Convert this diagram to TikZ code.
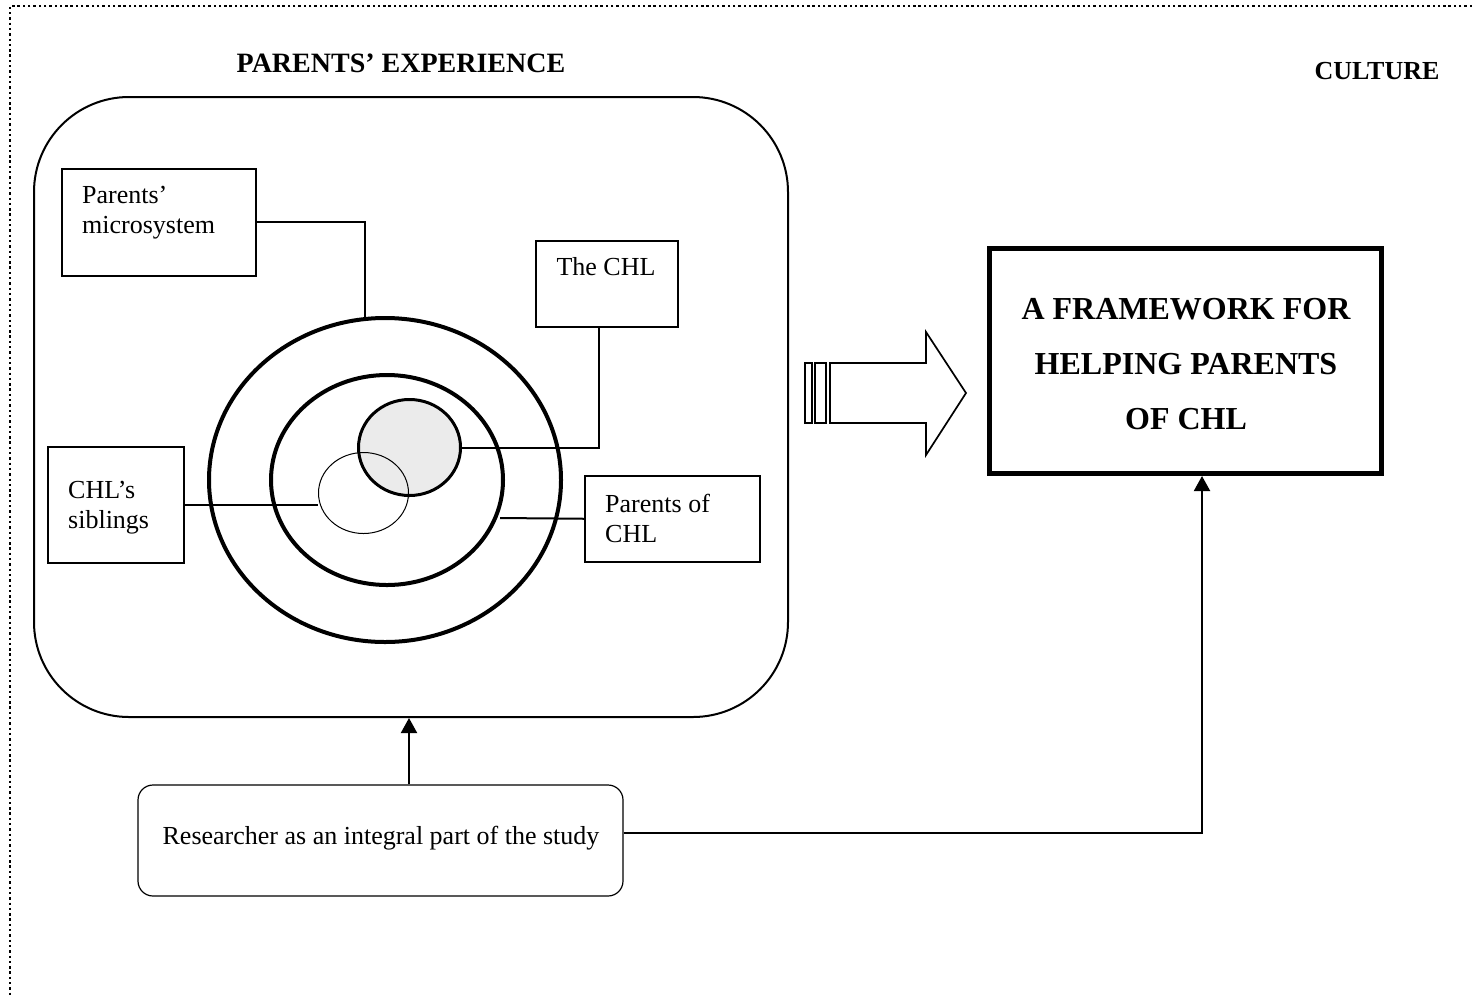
\documentclass[tikz,border=0pt]{standalone}
\usepackage{fontspec}
\setmainfont{Liberation Serif}
\usetikzlibrary{shapes.geometric,arrows.meta,calc}
\begin{document}
\begin{tikzpicture}[x=1pt,y=-1pt,
  box/.style={draw,line width=1.5pt,inner sep=0pt,anchor=north west},
  txt/.style={font=\fontsize{26}{30}\selectfont,inner sep=0pt,anchor=base west},
  ttl/.style={font=\bfseries\fontsize{28}{32}\selectfont,inner sep=0pt,anchor=base},
  conn/.style={line width=2pt},
  ring/.style={draw,ellipse,inner sep=0pt,line width=4pt},
  tip/.style={-{Triangle[length=15pt,width=16pt]}},
]
\useasboundingbox (0,0) rectangle (1472,997);
\fill[white] (0,0) rectangle (1472,997);
% dotted frame
\draw[line width=2.4pt,dash pattern=on 2.4pt off 2.9pt] (1472,6) -- (10,6) -- (10,997);

% titles
\node[ttl] (tpe) at (401,72) {PARENTS’ EXPERIENCE};
\node[ttl,font=\bfseries\fontsize{26}{30}\selectfont] (tcu) at (1377,79) {CULTURE};

% big rounded rectangle
\node[draw,rounded corners=95pt,line width=2pt,minimum width=754pt,minimum height=620pt,inner sep=0pt] (big) at (411,407) {};

% rings
\node[ring,minimum width=352pt,minimum height=324pt] (outer) at (385,480) {};
\node[ring,minimum width=232pt,minimum height=210pt] (mid) at (387,480) {};
\node[draw,ellipse,inner sep=0pt,line width=3pt,fill={rgb,255:red,235;green,235;blue,235},minimum width=102pt,minimum height=96pt] (core) at (409.5,447.5) {};
\node[draw,ellipse,inner sep=0pt,line width=1pt,minimum width=90pt,minimum height=81pt] (sibring) at (363.5,493) {};

% boxes
\node[box,minimum width=194pt,minimum height=107pt] (micro) at (61,168) {};
\node[txt] (microa) at (82,203) {Parents’};
\node[txt] (microb) at (82,233) {microsystem};

\node[box,minimum width=142pt,minimum height=86pt] (chl) at (535,240) {};
\node[txt,anchor=base] (chlt) at (606,275) {The CHL};

\node[box,minimum width=136pt,minimum height=116pt] (sib) at (47,446) {};
\node[txt] (siba) at (68,498) {CHL’s};
\node[txt] (sibb) at (68,528) {siblings};

\node[box,minimum width=175pt,minimum height=86pt] (poc) at (584,475) {};
\node[txt] (poca) at (605,512) {Parents of};
\node[txt] (pocb) at (605,542) {CHL};

% connectors
\coordinate (otop) at (365,317);
\draw[conn] (micro.east) -| (otop);
\coordinate (chlbot) at (599,326);
\draw[conn] (chlbot) |- (core.east);
\draw[conn] (sib.east) -- (sib.east -| sibring.west);
\coordinate (midr) at (500,518);
\draw[conn] (poc.west) -- (midr);

% hollow arrow
\draw[line width=1.7pt] (805,363) rectangle (812,423);
\draw[line width=1.7pt] (815,363) rectangle (826,423);
\draw[line width=1.7pt,line join=miter] (830,363) -- (926,363) -- (926,332) -- (966,393) -- (926,455) -- (926,423) -- (830,423) -- cycle;

% framework box
\node[draw,line width=5pt,minimum width=392pt,minimum height=225pt,inner sep=0pt] (fw) at (1185.5,361) {};
\node[align=center,inner sep=0pt,font=\bfseries\fontsize{32}{55}\selectfont] (fwt) at (1186,364) {A FRAMEWORK FOR\\HELPING PARENTS\\OF CHL};

% researcher
\node[draw,rounded corners=15pt,line width=1.2pt,minimum width=485pt,minimum height=111pt,inner sep=0pt] (res) at (380.5,840.5) {};
\node[txt,anchor=base] (rest) at (381,844) {Researcher as an integral part of the study};

\coordinate (resup) at ($(res.north)+(28.5,0)$);
\draw[conn,tip] (resup) -- (resup |- big.south);
\coordinate (resr) at ($(res.east)+(0,-7.5)$);
\coordinate (fwb) at ($(fw.south)+(16.5,0)$);
\draw[conn,tip] (resr) -| (fwb);
\end{tikzpicture}
\end{document}
